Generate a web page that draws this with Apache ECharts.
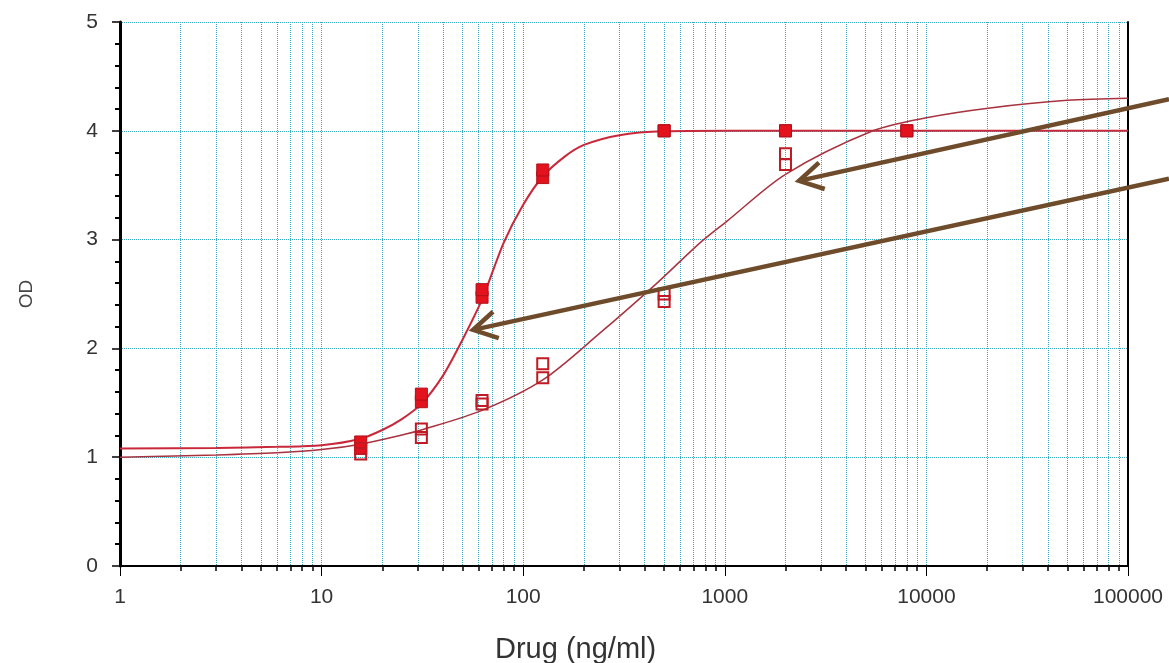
<!DOCTYPE html>
<html>
<head>
<meta charset="utf-8">
<script src="https://cdn.jsdelivr.net/npm/echarts@6/dist/echarts.min.js"></script>
<style>
  html, body { margin: 0; padding: 0; background: #fff; }
  #chart { width: 1169px; height: 663px; }
</style>
</head>
<body>
<div id="chart"></div>
<script>
// dose levels (ng/ml) where replicates were read
const filledDoses = [15.625, 31.25, 62.5, 125, 500, 2000, 8000];
const filledRepA = [1.08, 1.51, 2.47, 3.57, 4.00, 4.00, 4.00];
const filledRepB = [1.14, 1.58, 2.54, 3.64, 4.00, 4.00, 4.00];

const openDoses = [15.625, 31.25, 62.5, 125, 500, 2000];
const openRepA = [1.03, 1.18, 1.49, 1.73, 2.43, 3.69];
const openRepB = [1.08, 1.26, 1.52, 1.86, 2.50, 3.79];

// fitted curves
const curve1X = [1, 3, 6, 10, 15.6, 20, 25, 31.25, 40, 50, 62.5, 80, 100, 125, 160, 200, 300, 500, 1000, 100000];
const curve1Y = [1.08, 1.085, 1.095, 1.11, 1.17, 1.25, 1.35, 1.49, 1.75, 2.08, 2.45, 2.97, 3.32, 3.58, 3.76, 3.87, 3.96, 3.995, 4.0, 4.0];

const curve2X = [1, 3, 6, 10, 15.6, 24.5, 31.25, 62.5, 125, 240, 461, 753, 1026, 2000, 5430, 10000, 20700, 50000, 100000];
const curve2Y = [1.0, 1.02, 1.04, 1.07, 1.12, 1.2, 1.25, 1.43, 1.71, 2.14, 2.6, 2.97, 3.17, 3.6, 4.0, 4.12, 4.21, 4.28, 4.3];

const xTickLabels = ['1', '10', '100', '1000', '10000', '100000'];

// annotation arrows: [start, tip] in data coordinates
const arrowPaths = [
  [[159700, 4.29], [2334, 3.54]],
  [[159700, 3.56], [56.4, 2.17]]
];

const gridColor = '#3aa9bb';
const axisFont = 'Liberation Sans, Arial, sans-serif';

const chart = echarts.init(document.getElementById('chart'));

function zip(xs, ys) {
  return xs.map((x, i) => [x, ys[i]]);
}

const frameAxis = {
  show: true,
  axisLine: { show: true, lineStyle: { color: '#000', width: 2 } },
  axisTick: { show: false },
  axisLabel: { show: false },
  splitLine: { show: false }
};

const option = {
  animation: false,
  backgroundColor: '#fff',
  title: {
    text: 'Drug (ng/ml)',
    left: 490,
    top: 630,
    textStyle: { fontFamily: axisFont, fontSize: 29, fontWeight: 'normal', color: '#333' }
  },
  grid: { left: 120, right: 41, top: 22, bottom: 97 },
  xAxis: [{
    type: 'log',
    logBase: 10,
    min: 1,
    max: 100000,
    axisLine: { lineStyle: { color: '#000', width: 1.5 } },
    axisTick: { length: 10, lineStyle: { color: '#000', width: 1 } },
    minorTick: { show: true, splitNumber: 9, length: 5, lineStyle: { color: '#000', width: 1.5 } },
    axisLabel: {
      margin: 21, fontSize: 21, color: '#333', fontFamily: axisFont,
      formatter: (v) => xTickLabels.find(t => Number(t) === v) || String(v)
    },
    splitLine: { show: true, lineStyle: { color: gridColor, type: 'dotted', width: 1 } },
    minorSplitLine: { show: true, lineStyle: { color: gridColor, type: 'dotted', width: 1 } }
  }, Object.assign({ type: 'log', logBase: 10, min: 1, max: 100000, position: 'top' }, frameAxis)],
  yAxis: [{
    type: 'value',
    min: 0,
    max: 5,
    interval: 1,
    name: 'OD',
    nameLocation: 'middle',
    nameGap: 84,
    nameRotate: 90,
    nameTextStyle: { fontFamily: axisFont, fontSize: 19, color: '#444' },
    axisLine: { lineStyle: { color: '#000', width: 3 } },
    axisTick: { length: 8, lineStyle: { color: '#000', width: 1.5 } },
    minorTick: { show: true, splitNumber: 5, length: 5, lineStyle: { color: '#000', width: 2 } },
    axisLabel: { margin: 22, fontSize: 21, color: '#333', fontFamily: axisFont },
    splitLine: { show: true, lineStyle: { color: gridColor, type: 'dotted', width: 1 } }
  }, Object.assign({ type: 'value', min: 0, max: 5, position: 'right' }, frameAxis)],
  series: [
    {
      name: 'fit filled',
      type: 'line',
      data: zip(curve1X, curve1Y),
      smooth: 0.3,
      showSymbol: false,
      lineStyle: { color: '#c8283a', width: 2 },
      z: 3
    },
    {
      name: 'fit open',
      type: 'line',
      data: zip(curve2X, curve2Y),
      smooth: 0.3,
      showSymbol: false,
      lineStyle: { color: '#a8323e', width: 1.5 },
      z: 3
    },
    {
      name: 'filled',
      type: 'scatter',
      symbol: 'rect',
      symbolSize: 12,
      data: zip(filledDoses, filledRepA).concat(zip(filledDoses, filledRepB)),
      itemStyle: { color: '#e3121c', borderColor: '#b0101c', borderWidth: 1, opacity: 1 },
      z: 4
    },
    {
      name: 'open',
      type: 'scatter',
      symbol: 'rect',
      symbolSize: 11,
      data: zip(openDoses, openRepA).concat(zip(openDoses, openRepB)),
      itemStyle: { color: 'rgba(255,255,255,0)', borderColor: '#c01a24', borderWidth: 2, opacity: 1 },
      z: 5
    }
  ]
};

chart.setOption(option);

// brown annotation arrows with open heads
const arrowColor = '#6e4b2a';
const graphics = [];
arrowPaths.forEach(([from, to]) => {
  const p0 = chart.convertToPixel({ gridIndex: 0 }, from);
  const p1 = chart.convertToPixel({ gridIndex: 0 }, to);
  const dx = p0[0] - p1[0];
  const dy = p0[1] - p1[1];
  const len = Math.sqrt(dx * dx + dy * dy);
  const ux = dx / len;
  const uy = dy / len;
  const headLen = 27;
  const ang = 30 * Math.PI / 180;
  const rot = (a) => [ux * Math.cos(a) - uy * Math.sin(a), ux * Math.sin(a) + uy * Math.cos(a)];
  const h1 = rot(ang);
  const h2 = rot(-ang);
  graphics.push({
    type: 'line',
    shape: { x1: p0[0], y1: p0[1], x2: p1[0], y2: p1[1] },
    style: { stroke: arrowColor, lineWidth: 4.5 },
    z: 100
  });
  graphics.push({
    type: 'polyline',
    shape: {
      points: [
        [p1[0] + h1[0] * headLen, p1[1] + h1[1] * headLen],
        [p1[0], p1[1]],
        [p1[0] + h2[0] * headLen, p1[1] + h2[1] * headLen]
      ]
    },
    style: { stroke: arrowColor, lineWidth: 4.5, fill: null },
    z: 100
  });
});
chart.setOption({ graphic: graphics });
</script>
</body>
</html>
